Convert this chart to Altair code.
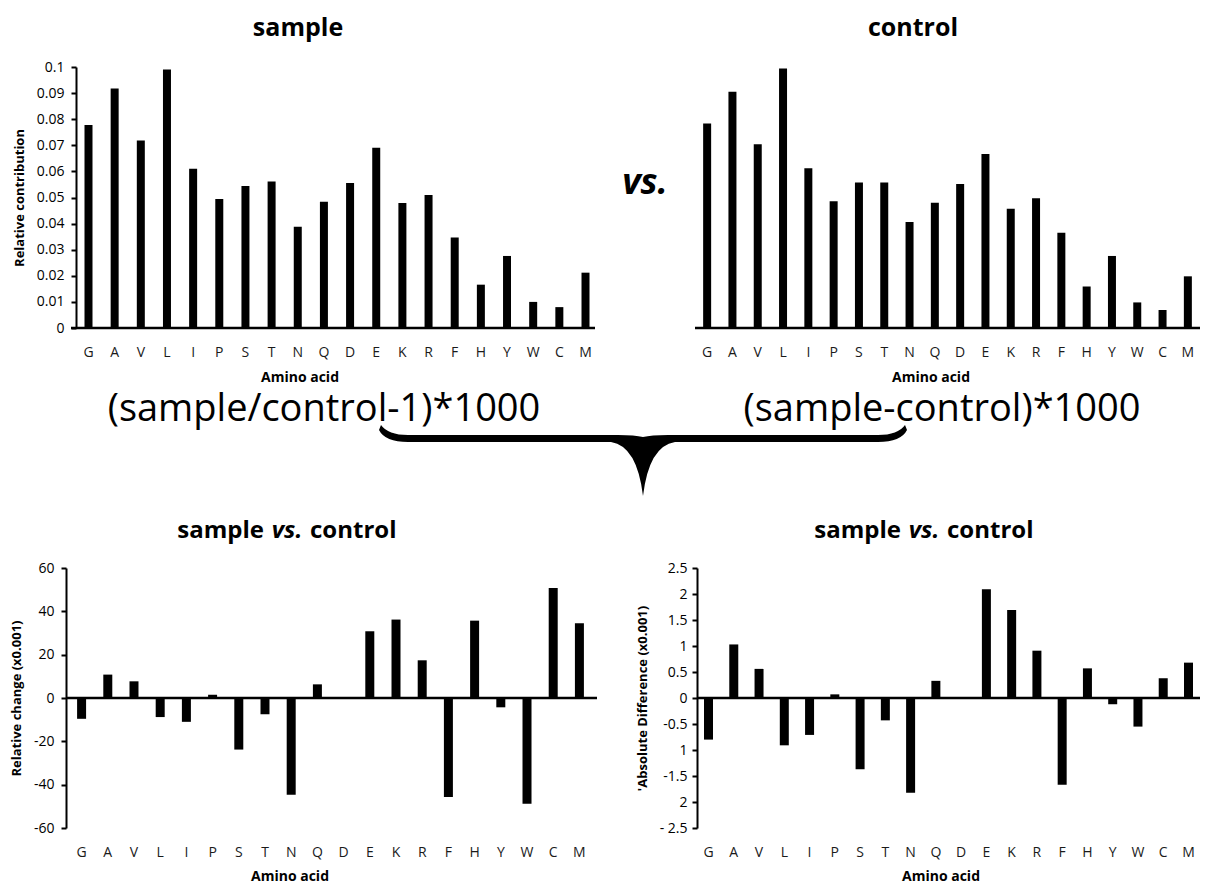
import altair as alt
import pandas as pd

# ---------------- data ----------------
amino = ["G", "A", "V", "L", "I", "P", "S", "T", "N", "Q",
         "D", "E", "K", "R", "F", "H", "Y", "W", "C", "M"]
sample_vals = [0.0778, 0.0918, 0.0718, 0.0990, 0.0610, 0.0494, 0.0544, 0.0561, 0.0388, 0.0484,
               0.0556, 0.0691, 0.0479, 0.0510, 0.0347, 0.0166, 0.0276, 0.0100, 0.0080, 0.0212]
control_vals = [0.0784, 0.0905, 0.0704, 0.0994, 0.0612, 0.0486, 0.0557, 0.0557, 0.0406, 0.0480,
                0.0552, 0.0667, 0.0457, 0.0497, 0.0365, 0.0159, 0.0276, 0.0098, 0.0069, 0.0198]
rel_change = [-9.6, 10.8, 7.7, -8.8, -11.0, 1.5, -23.8, -7.5, -44.6, 6.3,
              0.0, 30.8, 36.2, 17.4, -45.7, 35.7, -4.3, -48.8, 50.8, 34.5]
abs_diff = [-0.80, 1.03, 0.56, -0.91, -0.71, 0.07, -1.37, -0.43, -1.82, 0.33,
            0.0, 2.09, 1.69, 0.91, -1.67, 0.57, -0.12, -0.55, 0.38, 0.68]

top_ticks = [0, 0.01, 0.02, 0.03, 0.04, 0.05, 0.06, 0.07, 0.08, 0.09, 0.1]
rel_ticks = [-60, -40, -20, 0, 20, 40, 60]
abs_ticks = [-2.5, -2, -1.5, -1, -0.5, 0, 0.5, 1, 1.5, 2, 2.5]

titles_top = ["sample", "control"]
title_bottom = ["sample", "vs.", "control"]
vs_text = ["vs."]
x_title = ["Amino acid"]
y_titles = ["Relative contribution", "Relative change  (x0.001)", "'Absolute Difference  (x0.001)"]
formulas = ["(sample/control-1)*1000", "(sample-control)*1000"]

FONT = "Open Sans"

df = pd.DataFrame({"aa": amino, "sample": sample_vals, "control": control_vals,
                   "rel": rel_change, "abs": abs_diff})
zero_df = pd.DataFrame({"z": [0]})


def txt(s, x, y, size, weight="bold", style="normal", align="center", baseline="alphabetic", font=FONT):
    return alt.Chart(pd.DataFrame({"t": [s]})).mark_text(
        font=font, fontSize=size, fontWeight=weight, fontStyle=style,
        align=align, baseline=baseline, color="black"
    ).encode(text="t:N", x=alt.value(x), y=alt.value(y))


def xaxis():
    return alt.Axis(title=None, domain=False, ticks=False, tickSize=0, labelAngle=0,
                    labelPadding=17, labelFontSize=14, labelColor="#1a1a1a", labelFont=FONT,
                    labelOverlap=False)


def yaxis(title, values, expr, offset=0, label_pad=7):
    return alt.Axis(title=title, values=values, tickCount=len(values) + 2, labelExpr=expr,
                    offset=offset, tickSize=5, labelPadding=label_pad, titlePadding=10,
                    titleFontSize=13, titleFontWeight="bold", labelFontSize=14,
                    labelOverlap=False)


def panel(field, w, h, pad_outer, domain, axis, bar_size, rule_x, extras):
    x = alt.X("aa:N", sort=amino, axis=xaxis(),
              scale=alt.Scale(paddingInner=0.7, paddingOuter=pad_outer))
    bars = alt.Chart(df).mark_bar(color="black", size=bar_size).encode(
        x=x,
        y=alt.Y(f"{field}:Q", scale=alt.Scale(domain=domain, nice=False, zero=False), axis=axis),
    )
    zero = alt.Chart(zero_df).mark_rule(color="black", strokeWidth=2.5).encode(
        y=alt.Y("z:Q"), x=alt.value(rule_x[0]), x2=alt.value(rule_x[1])
    )
    return alt.layer(bars, zero, *extras).properties(width=w, height=h)


def split_title(center, y):
    return [txt(title_bottom[0], center - 23, y, 24, align="right"),
            txt(title_bottom[1], center, y, 24, style="italic"),
            txt(title_bottom[2], center + 23, y, 24, align="left")]


# ---------------- top-left : sample ----------------
brace = alt.Chart(pd.DataFrame({"b": [1]})).mark_point(
    shape=("M -262 -13 Q -255 -3 -235 -3 L -25 -3 Q -8 -3 0 -1 Q 8 -3 25 -3 L 235 -3 "
           "Q 255 -3 262 -13 L 264 -8 Q 258 4 235 4 L 32 4 Q 6 8 0 58 Q -6 8 -32 4 "
           "L -235 4 Q -258 4 -264 -8 Z"),
    filled=True, color="black", opacity=1, size=4, strokeWidth=0
).encode(x=alt.value(577), y=alt.value(371))

tl = panel(
    "sample", 542, 261, 0.71, [0, 0.1],
    yaxis(y_titles[0], top_ticks, "format(datum.value, '~g')", offset=-10),
    8, (5, 529),
    [txt(titles_top[0], 232, -31, 25),
     txt(vs_text[0], 579, 127, 36, style="italic"),
     txt(x_title[0], 234, 311, 14, baseline="middle"),
     txt(formulas[0], 258, 354, 38, weight="normal"),
     brace],
)

# ---------------- top-right : control ----------------
tr = panel(
    "control", 505, 261, 0.33, [0, 0.1], None, 8, (0, 505),
    [txt(titles_top[1], 218, -31, 25),
     txt(x_title[0], 236, 311, 14, baseline="middle"),
     txt(formulas[1], 247, 354, 38, weight="normal")],
)

# ---------------- bottom-left : relative change ----------------
bl = panel(
    "rel", 529, 260, 0.445, [-60, 60],
    yaxis(y_titles[1], rel_ticks, "datum.value + ''"),
    9, (0, 531),
    split_title(221, -30) + [txt(x_title[0], 224, 309, 14, baseline="middle")],
)

# ---------------- bottom-right : absolute difference ----------------
br = panel(
    "abs", 503, 260, 0.306, [-2.5, 2.5],
    yaxis(y_titles[2], abs_ticks,
          ("datum.value == -1 ? '1' : datum.value == -2 ? '2' : "
           "datum.value == -2.5 ? '- 2.5' : datum.value + ''"), label_pad=5),
    9, (0, 503),
    split_title(227, -30) + [txt(x_title[0], 244, 309, 14, baseline="middle")],
)

top = alt.hconcat(tl, tr, spacing=87, bounds="flush")
bottom = alt.hconcat(bl, br, spacing=102, bounds="flush")

chart = alt.vconcat(top, bottom, spacing=501, bounds="flush").properties(
    padding={"left": 2, "top": 8, "right": 0, "bottom": 0},
    background="white",
).configure_view(stroke=None).configure_axis(
    grid=False, domainColor="black", domainWidth=2, tickColor="black", tickWidth=2,
    labelFont=FONT, titleFont=FONT, labelColor="black", titleColor="black",
)

chart.save("out.html", embed_options={"renderer": "svg", "actions": False})
